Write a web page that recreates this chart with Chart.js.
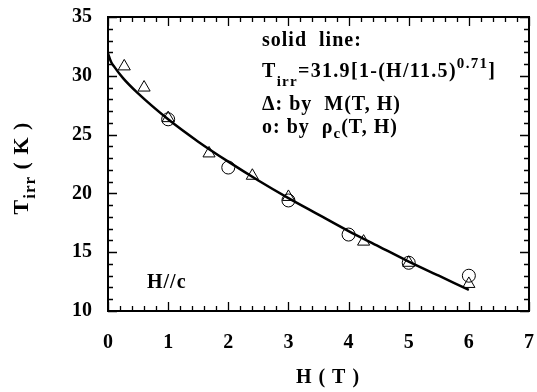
<!DOCTYPE html>
<html lang="en">
<head>
  <meta charset="UTF-8" />
  <title>Tirr vs H</title>
  <script src="https://cdn.jsdelivr.net/npm/chart.js"></script>
  <style>
    html, body { margin: 0; padding: 0; background: #fff; }
    #wrap { width: 537px; height: 392px; }
  </style>
</head>
<body>
<div id="wrap"><canvas id="chart" width="537" height="392"></canvas></div>
<script>
  // values
  const triH = [0.27, 0.6, 1.0, 1.68, 2.4, 3.0, 4.25, 5.0, 6.0];
  const triT = [30.8, 29.0, 26.4, 23.4, 21.5, 19.7, 15.9, 14.1, 12.3];
  const circH = [1.0, 2.0, 3.0, 4.0, 5.0, 6.0];
  const circT = [26.3, 22.2, 19.4, 16.5, 14.1, 13.0];
  // solid line (fit) sampled from the figure
  const fitH = [0, 0.05, 0.1, 0.25, 0.5, 1, 1.5, 2, 2.5, 3, 3.5, 4, 4.5, 5, 5.5, 6];
  const fitT = [31.9, 31.2, 30.8, 29.8, 28.5, 26.3, 24.4, 22.7, 21.1, 19.6, 18.2, 16.8, 15.5, 14.2, 13.0, 11.8];
  const xTicks = [0, 1, 2, 3, 4, 5, 6, 7];
  const yTicks = [10, 15, 20, 25, 30, 35];

  const FONT = "'Liberation Serif', 'DejaVu Serif', serif";
  const pts = (xs, ys) => xs.map((x, i) => ({ x: x, y: ys[i] }));

  // writes text pieces left to right; p.dy shifts sub/superscripts
  function rich(ctx, parts, x, y, size) {
    for (const p of parts) {
      const s = p.dy ? Math.round(size * 0.75) : size;
      ctx.font = 'bold ' + s + 'px ' + FONT;
      ctx.fillText(p.t, x, y + (p.dy || 0));
      x += ctx.measureText(p.t).width;
    }
    return x;
  }
  function richWidth(ctx, parts, size) {
    let w = 0;
    for (const p of parts) {
      const s = p.dy ? Math.round(size * 0.75) : size;
      ctx.font = 'bold ' + s + 'px ' + FONT;
      w += ctx.measureText(p.t).width;
    }
    return w;
  }

  // inward ticks on all four sides + frame + annotations
  const framePlugin = {
    id: 'frame',
    afterDraw(chart) {
      const { ctx, chartArea: a, scales } = chart;
      const xs = scales.x, ys = scales.y;
      ctx.save();
      ctx.strokeStyle = '#000';
      ctx.lineWidth = 2;
      ctx.strokeRect(a.left, a.top, a.right - a.left, a.bottom - a.top);
      ctx.lineWidth = 1.3;
      ctx.beginPath();
      for (let v = 0; v <= 7.001; v += 0.2) {
        const major = Math.abs(v - Math.round(v)) < 1e-6;
        const len = major ? 9 : 5;
        const px = Math.round(xs.getPixelForValue(v)) + 0.5;
        ctx.moveTo(px, a.bottom); ctx.lineTo(px, a.bottom - len);
        ctx.moveTo(px, a.top); ctx.lineTo(px, a.top + len);
      }
      for (let v = 10; v <= 35; v += 1) {
        const major = v % 5 === 0;
        const len = major ? 9 : 5;
        const py = Math.round(ys.getPixelForValue(v)) + 0.5;
        ctx.moveTo(a.left, py); ctx.lineTo(a.left + len, py);
        ctx.moveTo(a.right, py); ctx.lineTo(a.right - len, py);
      }
      ctx.stroke();

      ctx.fillStyle = '#000';
      ctx.textBaseline = 'alphabetic';
      ctx.textAlign = 'left';
      ctx.letterSpacing = '1px';
      const fs = 20;
      const lx = 262;
      rich(ctx, [{ t: 'solid  line:' }], lx, 46, fs);
      ctx.letterSpacing = '1.3px';
      rich(ctx, [{ t: 'T' }, { t: 'irr', dy: 9 }, { t: '=31.9[1-(H/11.5)' }, { t: '0.71', dy: -9 }, { t: ']' }], lx, 77, fs);
      ctx.letterSpacing = '1px';
      rich(ctx, [{ t: '\u0394: by  M(T, H)' }], lx, 110, fs);
      rich(ctx, [{ t: 'o: by  \u03c1' }, { t: 'c', dy: 5 }, { t: '(T, H)' }], lx, 133, fs);
      rich(ctx, [{ t: 'H//c' }], 147, 288, fs);

      // x title
      const xt = [{ t: 'H ( T )' }];
      rich(ctx, xt, 328 - richWidth(ctx, xt, fs) / 2, 383, fs);
      // y title rotated
      ctx.translate(28, 168);
      ctx.rotate(-Math.PI / 2);
      const yt = [{ t: 'T' }, { t: 'irr', dy: 7 }, { t: ' ( K )' }];
      rich(ctx, yt, -richWidth(ctx, yt, 22) / 2, 0, 22);
      ctx.restore();
    }
  };

  new Chart(document.getElementById('chart'), {
    type: 'scatter',
    data: {
      datasets: [
        {
          label: 'fit',
          type: 'line',
          data: pts(fitH, fitT),
          borderColor: '#000',
          borderWidth: 2.5,
          pointRadius: 0,
          cubicInterpolationMode: 'monotone',
          fill: false
        },
        {
          label: 'M(T,H)',
          data: pts(triH, triT),
          pointStyle: 'triangle',
          pointRadius: 7,
          borderColor: '#000',
          borderWidth: 1,
          backgroundColor: 'rgba(0,0,0,0)'
        },
        {
          label: 'rho_c(T,H)',
          data: pts(circH, circT),
          pointStyle: 'circle',
          pointRadius: 6.5,
          borderColor: '#000',
          borderWidth: 1,
          backgroundColor: 'rgba(0,0,0,0)'
        }
      ]
    },
    options: {
      responsive: false,
      animation: false,
      layout: { padding: { top: 17, right: 4, left: 0, bottom: 0 } },
      plugins: { legend: { display: false }, tooltip: { enabled: false } },
      scales: {
        x: {
          type: 'linear', min: 0, max: 7,
          afterBuildTicks: s => { s.ticks = xTicks.map(v => ({ value: v })); },
          afterFit: s => { s.height = 81; s.paddingLeft = 0; s.paddingRight = 0; },
          grid: { display: false, drawTicks: false },
          border: { display: false },
          ticks: { color: '#000', padding: 20, font: { family: FONT, size: 20, weight: 'bold' } }
        },
        y: {
          type: 'linear', min: 10, max: 35,
          afterBuildTicks: s => { s.ticks = yTicks.map(v => ({ value: v })); },
          afterFit: s => { s.width = 108; s.paddingTop = 0; s.paddingBottom = 0; },
          grid: { display: false, drawTicks: false },
          border: { display: false },
          ticks: { color: '#000', padding: 16, font: { family: FONT, size: 20, weight: 'bold' } }
        }
      }
    },
    plugins: [framePlugin]
  });
</script>
</body>
</html>
